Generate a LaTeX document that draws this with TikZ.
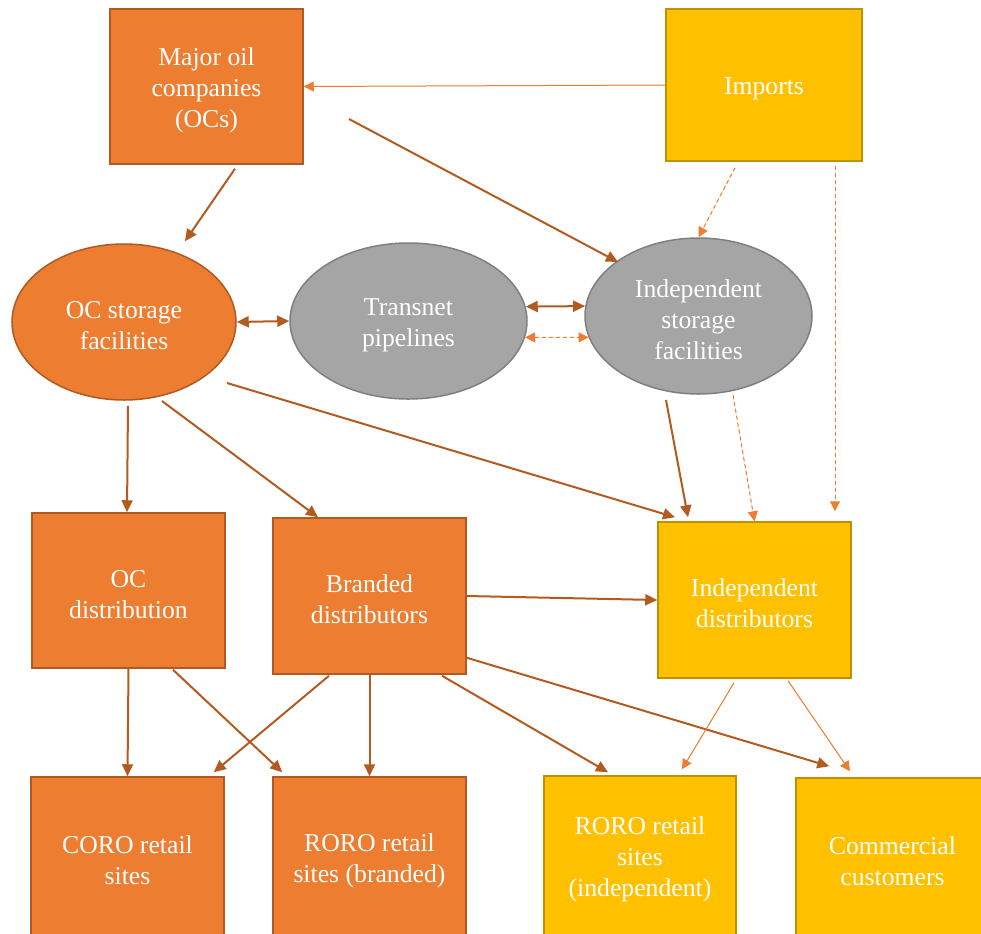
\documentclass[tikz,border=0pt]{standalone}
\usepackage{fontspec}
\setmainfont{Liberation Serif}
\usetikzlibrary{shapes.geometric,arrows.meta}
\definecolor{ocorange}{HTML}{ED7D31}
\definecolor{ocedge}{HTML}{AE5A21}
\definecolor{arrdark}{HTML}{B35A20}
\definecolor{indyellow}{HTML}{FFC000}
\definecolor{indedge}{HTML}{BF9000}
\definecolor{pipegray}{HTML}{A5A5A5}
\definecolor{pipeedge}{HTML}{7F7F7F}

\begin{document}
\begin{tikzpicture}[x=0.5pt,y=-0.5pt]

% definitions
\tikzstyle{label} = [align=flush center, text=white, inner sep=0pt, line width=0.75pt, font=\fontsize{12.85}{15.5}\selectfont, execute at begin node={\rule{0pt}{12.5pt}}]

\tikzstyle{ocbox} = [label, rectangle, minimum width=96.5pt, minimum height=77.5pt, draw=ocedge, fill=ocorange, text width=90pt]

\tikzstyle{indbox} = [label, rectangle, minimum width=96.5pt, minimum height=78pt, draw=indedge, fill=indyellow, text width=90pt]

\tikzstyle{ocstore} = [label, ellipse, minimum width=112pt, minimum height=78pt, draw=ocedge, fill=ocorange, text width=70pt]

\tikzstyle{pipestore} = [label, ellipse, minimum width=114pt, minimum height=78pt, draw=pipeedge, fill=pipegray, text width=70pt]

\tikzstyle{arrow} = [-{Triangle[length=6pt,width=5.5pt]}, draw=arrdark, fill=arrdark, line width=1pt]

\tikzstyle{dblarrow} = [{Triangle[length=6pt,width=5.5pt]}-{Triangle[length=6pt,width=5.5pt]}, draw=arrdark, fill=arrdark, line width=1pt]

\tikzstyle{thinarrow} = [-{Triangle[length=5pt,width=5pt]}, draw=ocorange, fill=ocorange, line width=0.5pt]

\tikzstyle{dasharrow} = [thinarrow, dash pattern=on 2pt off 1.5pt]

\useasboundingbox (0,0) rectangle (981,933);
\clip (0,0) rectangle (981,933);

% the graph
\node (maj) [ocbox] at (206.5,86.5) {Major oil\\companies\\(OCs)};

\node (imp) [indbox, minimum width=98pt, minimum height=76pt] at (764,85) {Imports};

\node (ocst) [ocstore] at (124,322) {OC storage\\facilities};

\node (tran) [pipestore, minimum width=118.5pt] at (408.5,321) {Transnet\\pipelines};

\node (istor) [pipestore, minimum width=113.5pt] at (698.5,316) {Independent\\storage\\facilities};

\node (ocd) [ocbox] at (128.5,590.5) {OC\\distribution};

\node (brd) [ocbox, minimum height=78pt] at (369.5,596) {Branded\\distributors};

\node (ind) [indbox] at (754.5,600) {Independent\\distributors};

\node (coro) [ocbox, minimum height=80pt] at (127.5,857) {CORO retail\\sites};

\node (rorob) [ocbox, minimum height=80pt] at (369.5,857) {RORO retail\\sites (branded)};

\node (roroi) [indbox, minimum width=96pt, minimum height=80pt] at (640,856) {RORO retail\\sites\\(independent)};

\node (comm) [indbox, minimum height=80pt] at (892.5,858) {Commercial\\customers};

\draw [thinarrow] (imp.west) -- (maj.east);
\draw [arrow] ([shift={(142.5,32.5)}]maj.center) -- ([shift={(-80.5,-54)}]istor.center);
\draw [arrow] ([shift={(28.5,4)}]maj.south) -- ([shift={(61,-2)}]ocst.north);
\draw [dasharrow] ([shift={(-29,6)}]imp.south) -- (istor.north);
\draw [dasharrow] ([shift={(71,4)}]imp.south) -- ([shift={(80.5,-10)}]ind.north);

\draw [dblarrow] (ocst.east) -- (tran.west);
\draw [dblarrow] (tran.7) -- (istor.175);
\draw [dasharrow, {Triangle[length=5pt,width=5pt]}-{Triangle[length=5pt,width=5pt]}] (tran.-8) -- (istor.191);

\draw [arrow] ([shift={(4,5)}]ocst.south) -- ([xshift=-0.75pt]ocd.north);
\draw [arrow] ([shift={(38,79)}]ocst.center) -- ([shift={(-51.5,0)}]brd.north);
\draw [arrow] ([shift={(103,61)}]ocst.center) -- ([shift={(-79.5,-4)}]ind.north);
\draw [arrow] ([shift={(-32.5,84)}]istor.center) -- ([shift={(-66.5,-4)}]ind.north);
\draw [dasharrow] ([shift={(34.5,79)}]istor.center) -- (ind.north);

\draw [arrow] (brd.east) -- (ind.west);
\draw [arrow] ([shift={(0,-17)}]brd.south east) -- ([shift={(34,-11)}]comm.north west);
\draw [arrow] ([shift={(72.5,1)}]brd.south) -- ([shift={(-32,-3)}]roroi.north);
\draw [arrow] (brd.south) -- (rorob.north);
\draw [arrow] ([shift={(-40.5,1)}]brd.south) -- ([shift={(-11,-4)}]coro.north east);
\draw [arrow] (ocd.south) -- (coro.north);
\draw [arrow] ([shift={(44.5,1)}]ocd.south) -- ([shift={(10,-4)}]rorob.north west);
\draw [thinarrow] ([shift={(-20.5,4)}]ind.south) -- ([shift={(42,-6)}]roroi.north);
\draw [thinarrow] ([shift={(33.5,2)}]ind.south) -- ([shift={(-42.5,-6)}]comm.north);

\end{tikzpicture}
\end{document}
